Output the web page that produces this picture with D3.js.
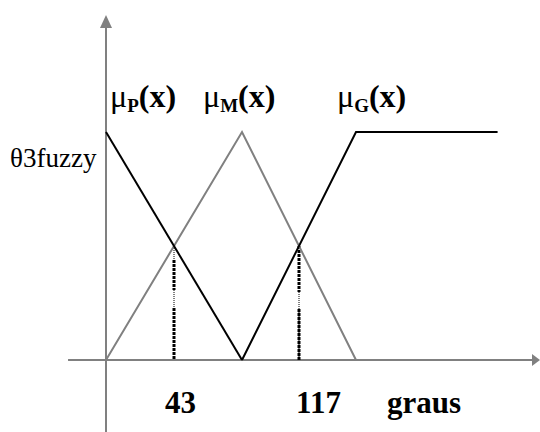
<!DOCTYPE html>
<html>
<head>
<meta charset="utf-8">
<script src="https://cdn.jsdelivr.net/npm/d3@7"></script>
<style>
  html, body { margin: 0; padding: 0; background: #fff; }
  text { font-family: "Liberation Serif", "Times New Roman", serif; }
</style>
</head>
<body>
<div id="chart"></div>
<script>
    // membership functions (x in graus, y = degree of membership)
    const pX = [0, 86];
    const pY = [1, 0];
    const mX = [0, 86, 148];
    const mY = [0, 1, 0];
    const gX = [86, 148, 225];
    const gY = [0, 1, 1];

    // cut points where the sets cross
    const cutX = [43, 117];
    const cutY = [0.5, 0.5];

    const tickLabels = ['43', '117'];
    const setNames = ['P', 'M', 'G'];
    const xTitle = 'graus';
    const yTitle = 'θ3fuzzy';

    const w = 540;
    const h = 432;
    const grey = '#808080';
    const black = '#000';

    const svg = d3.select('#chart')
        .append('svg')
        .attr('width', w)
        .attr('height', h);

    // drawing is not to scale, so the x scale is piecewise
    const xScale = d3.scaleLinear()
        .domain([0, 86, 148])
        .range([106, 242, 356]);

    const yScale = d3.scaleLinear()
        .domain([0, 1])
        .range([360, 132]);

    const line = d3.line()
        .x((d) => xScale(d[0]))
        .y((d) => yScale(d[1]));

    // axes
    svg.append('line')
        .attr('x1', xScale(-24)).attr('x2', w - 6)
        .attr('y1', yScale(0)).attr('y2', yScale(0))
        .attr('stroke', grey).attr('stroke-width', 2);

    svg.append('path')
        .attr('d', 'M' + w + ',' + yScale(0) + 'l-8,-6v12z')
        .attr('fill', grey);

    svg.append('line')
        .attr('x1', xScale(0)).attr('x2', xScale(0))
        .attr('y1', 432).attr('y2', 26)
        .attr('stroke', grey).attr('stroke-width', 2);

    svg.append('path')
        .attr('d', 'M' + xScale(0) + ',15l-6,13h12z')
        .attr('fill', grey);

    // dotted guides at the crossing points
    const cuts = cutX.map((d, i) => [d, cutY[i]]);

    svg.selectAll('.guide-thin')
        .data(cuts)
        .enter()
        .append('line')
        .attr('class', 'guide-thin')
        .attr('x1', (d) => xScale(d[0])).attr('x2', (d) => xScale(d[0]))
        .attr('y1', (d) => yScale(d[1])).attr('y2', yScale(0))
        .attr('stroke', black)
        .attr('stroke-width', 1)
        .attr('stroke-dasharray', '1,1');

    svg.selectAll('.guide-thick')
        .data(cuts)
        .enter()
        .append('line')
        .attr('class', 'guide-thick')
        .attr('x1', (d) => xScale(d[0])).attr('x2', (d) => xScale(d[0]))
        .attr('y1', (d) => yScale(d[1])).attr('y2', yScale(0))
        .attr('stroke', black)
        .attr('stroke-width', 3)
        .attr('stroke-dasharray', (d, i) => i === 0
            ? '0,14,3,1,3,1,3,1,3,1,3,1,3,1,3,1,2,18,3,1,3,1,3,1,3,1,3,1,3,1,3,1,3,1,3,1,3,1,3,1,3,1,3,1,3,1,3,1,3,1'
            : '3,1,3,1,3,1,3,1,3,1,3,1,3,1,3,1,3,1,3,1,3,1,2,17,3,1,3,1,3,1,3,1,3,1,3,1,3,1,3,1,3,1,3,1,3,1,3,1,3,1,3,1');

    // membership curves
    const zip = (xs, ys) => xs.map((d, i) => [d, ys[i]]);

    svg.append('path')
        .attr('d', line(zip(mX, mY)))
        .attr('fill', 'none')
        .attr('stroke', grey)
        .attr('stroke-width', 2);

    svg.append('path')
        .attr('d', line(zip(pX, pY)))
        .attr('fill', 'none')
        .attr('stroke', black)
        .attr('stroke-width', 2);

    svg.append('path')
        .attr('d', line(zip(gX, gY)))
        .attr('fill', 'none')
        .attr('stroke', black)
        .attr('stroke-width', 2);

    // set labels mu_P(x), mu_M(x), mu_G(x)
    const labelX = [xScale(0) + 4, xScale(86) - 39, xScale(148) - 19];

    const labels = svg.selectAll('.set-label')
        .data(setNames)
        .enter()
        .append('text')
        .attr('class', 'set-label')
        .attr('x', (d, i) => labelX[i])
        .attr('y', 107)
        .style('font-size', '32px');

    labels.append('tspan').text('μ');
    labels.append('tspan')
        .attr('dy', 5)
        .style('font-size', '19px')
        .style('font-weight', 'bold')
        .text((d) => d);
    labels.append('tspan')
        .attr('dy', -5)
        .style('font-weight', 'bold')
        .text('(x)');

    // x tick labels
    const xAxis = d3.axisBottom(xScale)
        .tickValues(cutX)
        .tickFormat((d, i) => tickLabels[i])
        .tickSize(0)
        .tickPadding(0);

    const ax = svg.append('g')
        .attr('transform', 'translate(0,' + yScale(0) + ')')
        .call(xAxis);
    ax.select('.domain').remove();
    ax.selectAll('text')
        .attr('y', 53)
        .attr('dy', 0)
        .attr('dx', (d, i) => i === 0 ? 6 : 19)
        .attr('fill', black)
        .style('font-family', '"Liberation Serif", serif')
        .style('font-size', '31px')
        .style('font-weight', 'bold');

    svg.append('text')
        .attr('x', 387)
        .attr('y', 413)
        .style('font-size', '31px')
        .style('font-weight', 'bold')
        .text(xTitle);

    svg.append('text')
        .attr('x', 10)
        .attr('y', yScale(1) + 35)
        .style('font-size', '27px')
        .text(yTitle);
</script>
</body>
</html>
